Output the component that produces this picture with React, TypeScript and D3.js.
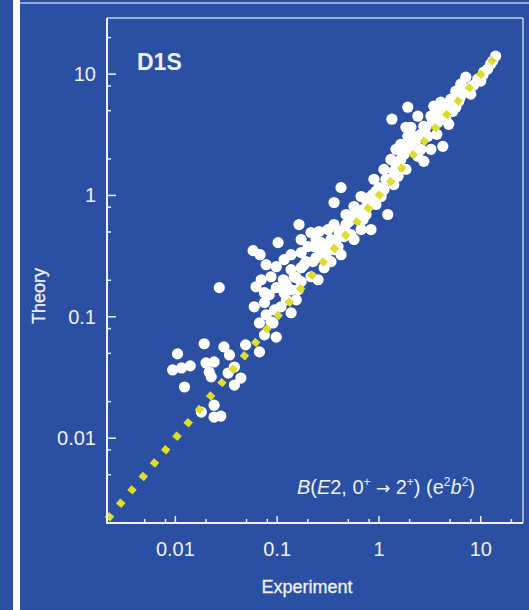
import * as d3 from "d3";

const experiment = [
  0.0105, 0.0094, 0.0115, 0.014, 0.0123, 0.0192, 0.02, 0.024, 0.0225, 0.0215,
  0.03, 0.034, 0.038, 0.033, 0.044, 0.038, 0.049, 0.067, 0.075, 0.067,
  0.098, 0.091, 0.024, 0.024, 0.028, 0.018, 0.027, 0.0595, 0.075, 0.062,
  0.075, 0.098, 0.117, 0.161, 0.094, 0.109, 0.137, 0.087, 0.087, 0.115,
  0.147, 0.215, 0.252, 0.098, 0.137, 0.184, 0.117, 0.172, 0.338, 0.289,
  0.164, 0.102, 0.058, 0.068, 0.215, 0.258, 0.316, 0.231, 0.27, 0.454,
  0.396, 0.27, 0.201, 0.454, 0.362, 0.569, 0.667, 0.531, 0.835, 0.569,
  0.78, 0.667, 0.424, 0.362, 1.05, 0.893, 1.12, 1.31, 1.54, 1.22,
  1.64, 1.92, 1.64, 1.97, 2.41, 2.76, 2.58, 3.24, 4.24, 2.2,
  3.02, 2.76, 3.79, 2.41, 3.24, 1.92, 1.34, 3.46, 4.05, 4.75,
  5.08, 6.37, 7.98, 7.13, 9.35, 10.7, 12.5, 14.0, 0.137, 0.172,
  0.302, 0.475, 0.622, 0.746, 1.0, 1.17, 1.47, 2.15, 4.54, 5.69,
  7.98, 10, 11.7, 0.424, 0.531, 0.746, 0.935, 2.06, 2.58, 5.69,
  0.123, 0.154, 0.078, 0.379, 0.324, 0.697, 0.873, 1.4, 1.84, 1.72,
  6.37, 0.192, 0.241, 0.282, 0.225, 0.172, 0.154, 0.123, 0.338, 0.405,
  0.508, 0.595, 0.697, 0.798, 0.935, 1.12, 1.25, 1.4, 1.57, 1.76,
  2.06, 2.36, 2.89, 3.38, 3.87, 4.34, 4.85, 3.7, 5.31, 6.08,
  6.81, 8.53, 10.5, 13.1, 1.84, 1.47, 0.475, 0.362, 0.241, 0.172,
  0.137, 0.078, 0.0697, 0.0835,
];
const theory = [
  0.0495, 0.0365, 0.0379, 0.0394, 0.0264, 0.06, 0.0417, 0.0425, 0.032, 0.035,
  0.0565, 0.0485, 0.0386, 0.0344, 0.0313, 0.0274, 0.0587, 0.089, 0.071, 0.0514,
  0.068, 0.089, 0.0187, 0.0149, 0.0152, 0.0164, 0.174, 0.121, 0.131, 0.177,
  0.158, 0.174, 0.158, 0.167, 0.114, 0.121, 0.108, 0.091, 0.214, 0.202,
  0.214, 0.214, 0.202, 0.259, 0.245, 0.269, 0.296, 0.338, 0.285, 0.254,
  0.576, 0.409, 0.351, 0.325, 0.494, 0.504, 0.524, 0.379, 0.358, 0.458,
  0.379, 0.409, 0.379, 0.524, 0.358, 0.433, 0.524, 0.634, 0.524, 0.811,
  0.811, 0.981, 1.16, 0.875, 0.981, 1.36, 1.64, 1.98, 1.44, 0.697,
  2.64, 3.07, 1.98, 2.54, 2.1, 1.91, 2.4, 2.4, 2.54, 3.07,
  3.07, 3.72, 4.01, 4.5, 4.5, 5.34, 4.25, 5.44, 5.87, 5.14,
  6.21, 6.58, 7.81, 9.44, 9.1, 10.4, 12.1, 14.1, 0.167, 0.195,
  0.325, 0.576, 0.697, 0.927, 1.16, 1.36, 1.8, 2.4, 4.25, 5.34,
  6.84, 8.75, 11.0, 0.325, 0.476, 0.697, 0.843, 3.65, 3.19, 7.24,
  0.138, 0.138, 0.104, 0.433, 0.394, 0.766, 1.02, 1.23, 1.64, 2.18,
  8.26, 0.285, 0.307, 0.325, 0.285, 0.254, 0.21, 0.184, 0.433, 0.504,
  0.61, 0.738, 0.634, 0.962, 1.08, 1.12, 1.36, 1.58, 1.8, 2.18,
  2.64, 2.9, 3.65, 4.09, 4.67, 5.34, 3.86, 3.19, 4.94, 5.98,
  7.24, 8.11, 9.82, 12.8, 3.65, 2.4, 0.697, 0.576, 0.433, 0.433,
  0.325, 0.269, 0.202, 0.152,
];

const majorTicks = [0.01, 0.1, 1, 10];
const tickLabels = ["0.01", "0.1", "1", "10"];
const decades = [0.001, 0.01, 0.1, 1, 10];
const minorSteps = [2, 5, 8];
const diagonal = [0.00215, 15];

const W = 529;
const H = 610;
const left = 107;
const right = 523;
const top = 18;
const bottom = 523;

const bg = "#2b4fa2";
const fg = "#eef2f8";
const yellow = "#dedd2c";
const font = "'Liberation Sans', Arial, sans-serif";

export default function App() {
  const x = d3.scaleLog().domain([0.00213, 26]).range([left, right]);
  const y = d3.scaleLog().domain([0.002, 29]).range([bottom, top]);

  const minorX = decades.flatMap((d) => minorSteps.map((m) => d * m)).filter((v) => v > 0.00213 && v < 26);
  const minorY = decades.flatMap((d) => minorSteps.map((m) => d * m)).filter((v) => v > 0.002 && v < 29);

  const pts = experiment.map((e, i) => [e, theory[i]]);
  const line = d3.line<number>().x((d) => x(d)).y((d) => y(d));

  return (
    <svg width={W} height={H} style={{ position: "absolute", left: 0, top: 0 }} fontFamily={font}>
      <rect width={W} height={H} fill={bg} />
      <rect x={13} y={0} width={7} height={H} fill="#ffffff" />
      <line x1={20} x2={W} y1={3} y2={3} stroke="#b9c6e2" strokeWidth={1.5} />

      {/* frame */}
      <line x1={left} x2={right} y1={top} y2={top} stroke="#c3cde4" strokeWidth={1.5} />
      <line x1={right} x2={right} y1={top} y2={bottom} stroke="#c3cde4" strokeWidth={1.5} />

      {pts.map((d, i) => (
        <circle key={i} cx={x(d[0])} cy={y(d[1])} r={5.6} fill="#ffffff" />
      ))}

      <path
        d={line(diagonal) || ""}
        fill="none"
        stroke={yellow}
        strokeWidth={7}
        strokeDasharray="6.5 11"
      />

      <line x1={left} x2={left} y1={top} y2={bottom + 1} stroke={fg} strokeWidth={2} />
      <line x1={left - 1} x2={right} y1={bottom} y2={bottom} stroke={fg} strokeWidth={2} />

      {majorTicks.map((v, i) => (
        <g key={"mx" + i}>
          <line x1={x(v)} x2={x(v)} y1={bottom} y2={bottom - 7} stroke={fg} strokeWidth={1.5} />
          <text x={x(v)} y={556} textAnchor="middle" fontSize={20} fill={fg}>
            {tickLabels[i]}
          </text>
          <line x1={left} x2={left + 9} y1={y(v)} y2={y(v)} stroke={fg} strokeWidth={1.5} />
          <text x={96} y={y(v) + 7} textAnchor="end" fontSize={20} fill={fg}>
            {tickLabels[i]}
          </text>
        </g>
      ))}
      {minorX.map((v, i) => (
        <line key={"nx" + i} x1={x(v)} x2={x(v)} y1={bottom} y2={bottom - 4} stroke={fg} strokeWidth={1.5} />
      ))}
      {minorY.map((v, i) => (
        <line key={"ny" + i} x1={left} x2={left + 4} y1={y(v)} y2={y(v)} stroke={fg} strokeWidth={1.5} />
      ))}

      <text x={307} y={593} textAnchor="middle" fontSize={18} fill={fg} stroke={fg} strokeWidth={0.3}>
        Experiment
      </text>
      <text transform="translate(45,296) rotate(-90)" textAnchor="middle" fontSize={18} fill={fg} stroke={fg} strokeWidth={0.3}>
        Theory
      </text>
      <text x={137} y={70} fontSize={23} fontWeight="bold" fill={fg}>
        D1S
      </text>
      <text x={475} y={494} textAnchor="end" fontSize={20} fill={fg}>
        <tspan fontStyle="italic">B</tspan>(<tspan fontStyle="italic">E</tspan>2, 0
        <tspan fontSize={12} dy={-8}>+</tspan>
        <tspan dy={8} fontFamily="'DejaVu Sans', sans-serif" fontSize={17}> → </tspan>
        <tspan>2</tspan>
        <tspan fontSize={12} dy={-8}>+</tspan>
        <tspan dy={8}>) (e</tspan>
        <tspan fontSize={12} dy={-8}>2</tspan>
        <tspan dy={8} fontStyle="italic">b</tspan>
        <tspan fontSize={12} dy={-8}>2</tspan>
        <tspan dy={8}>)</tspan>
      </text>
    </svg>
  );
}
